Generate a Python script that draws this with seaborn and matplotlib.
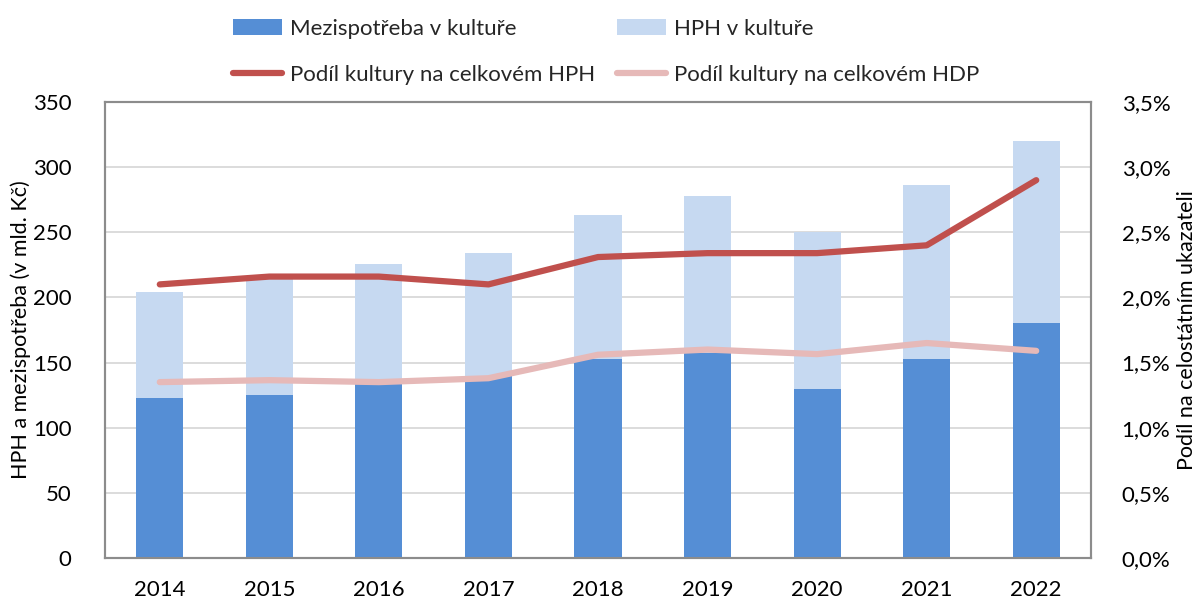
import numpy as np
import pandas as pd
import matplotlib
matplotlib.use("Agg")
import matplotlib.pyplot as plt
from matplotlib.ticker import FuncFormatter, MultipleLocator
import seaborn as sns

years = ["2014", "2015", "2016", "2017", "2018", "2019", "2020", "2021", "2022"]
mezispotreba = [123, 125, 135, 140, 153, 157, 130, 153, 180]
hph = [81, 90, 91, 94, 110, 121, 120, 133, 140]
podil_hph = [2.10, 2.16, 2.16, 2.10, 2.31, 2.34, 2.34, 2.40, 2.90]
podil_hdp = [1.35, 1.365, 1.35, 1.38, 1.56, 1.60, 1.565, 1.65, 1.59]

C_BLUE = "#558ED5"
C_LIGHT = "#C6D9F1"
C_RED = "#C0504D"
C_PINK = "#E6B9B8"

sns.set_theme(style="white")
plt.rcParams["font.family"] = ["Lato", "DejaVu Sans"]
FS = 16

df = pd.DataFrame({"rok": years, "mezi": mezispotreba, "hph": hph})
df["total"] = df["mezi"] + df["hph"]

fig = plt.figure(figsize=(12.03, 6.0), dpi=100)
ax = fig.add_axes([105 / 1203, 1 - 558 / 600, (1091 - 105) / 1203, (558 - 102) / 600])

sns.barplot(data=df, x="rok", y="total", color=C_LIGHT, width=0.43, ax=ax,
            saturation=1, label="HPH v kultuře", zorder=2, linewidth=0)
sns.barplot(data=df, x="rok", y="mezi", color=C_BLUE, width=0.43, ax=ax,
            saturation=1, label="Mezispotřeba v kultuře", zorder=3, linewidth=0)

ax.set_ylim(0, 350)
ax.set_xlim(-0.5, len(years) - 0.5)
ax.yaxis.set_major_locator(MultipleLocator(50))
ax.grid(axis="y", color="#D9D9D9", linewidth=1.3, zorder=0)
ax.set_axisbelow(True)
ax.set_xlabel("")
ax.set_ylabel("HPH a mezispotřeba (v mld. Kč)", fontsize=FS - 0.5, color="black")
ax.yaxis.set_label_coords(-0.075, 0.5)
ax.tick_params(axis="both", length=0, labelsize=FS, colors="black")
ax.tick_params(axis="y", pad=24)
ax.tick_params(axis="x", pad=16)
if ax.get_legend() is not None:
    ax.get_legend().remove()

ax2 = ax.twinx()
pos = np.arange(len(years))
sns.lineplot(x=pos, y=podil_hph, ax=ax2, color=C_RED, linewidth=4.5,
             label="Podíl kultury na celkovém HPH", solid_capstyle="round")
sns.lineplot(x=pos, y=podil_hdp, ax=ax2, color=C_PINK, linewidth=4.5,
             label="Podíl kultury na celkovém HDP", solid_capstyle="round")
ax2.set_ylim(0, 3.5)
ax2.yaxis.set_major_locator(MultipleLocator(0.5))
ax2.yaxis.set_major_formatter(FuncFormatter(lambda v, p: f"{v:.1f}%".replace(".", ",")))
ax2.set_ylabel("Podíl na celostátním ukazateli", fontsize=FS - 0.5, color="black")
ax2.yaxis.set_label_coords(1.087, 0.5)
ax2.tick_params(axis="y", length=0, labelsize=FS, colors="black", pad=22)
ax2.grid(False)
if ax2.get_legend() is not None:
    ax2.get_legend().remove()

for a in (ax, ax2):
    for s in a.spines.values():
        s.set_color("#8C8C8C")
        s.set_linewidth(1.5)

h1, l1 = ax.get_legend_handles_labels()
h2, l2 = ax2.get_legend_handles_labels()
hd = dict(zip(l1 + l2, h1 + h2))
order = ["Mezispotřeba v kultuře", "Podíl kultury na celkovém HPH",
         "HPH v kultuře", "Podíl kultury na celkovém HDP"]
leg = fig.legend([hd[k] for k in order], order, ncol=2, loc="center",
                 bbox_to_anchor=(606 / 1203, 1 - 52 / 600), frameon=False,
                 fontsize=FS, handlelength=2.2, handletextpad=0.35,
                 columnspacing=1.0, labelspacing=1.2, handleheight=0.75)

fig.savefig("out.png", dpi=100)
